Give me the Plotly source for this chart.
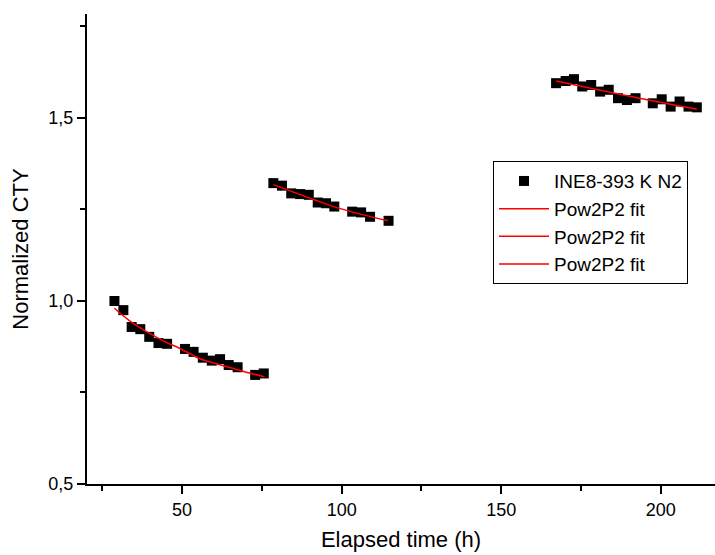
import plotly.graph_objects as go

# Measured normalized CTY for sample INE8-393 K N2, three runs
run1_time = [28.8, 31.6, 34.2, 36.9, 39.7, 42.6, 45.3, 50.9, 53.6, 56.5, 59.3, 61.9, 64.6, 67.4, 72.9, 75.6]
run1_cty = [1.000, 0.975, 0.929, 0.923, 0.902, 0.885, 0.883, 0.869, 0.861, 0.845, 0.837, 0.841, 0.825, 0.819, 0.798, 0.802]

run2_time = [78.6, 81.3, 84.2, 87.0, 89.7, 92.5, 95.1, 97.7, 103.3, 106.1, 108.9, 114.7]
run2_cty = [1.322, 1.315, 1.294, 1.292, 1.290, 1.269, 1.267, 1.258, 1.244, 1.242, 1.230, 1.219]

run3_time = [167.2, 170.2, 172.8, 175.4, 178.2, 181.0, 183.7, 186.6, 189.4, 192.1, 197.5, 200.3, 203.1, 205.9, 208.7, 211.3]
run3_cty = [1.595, 1.601, 1.606, 1.586, 1.590, 1.572, 1.577, 1.554, 1.549, 1.554, 1.540, 1.551, 1.531, 1.545, 1.531, 1.529]

# Pow2P2 fit curves for each run
fit1_time = [28.8, 34.0, 39.7, 44.5, 49.2, 55.4, 60.5, 65.8, 70.8, 75.8]
fit1_cty = [0.980, 0.943, 0.912, 0.889, 0.871, 0.843, 0.829, 0.816, 0.804, 0.793]

fit2_time = [78.6, 91.0, 99.3, 114.5]
fit2_cty = [1.318, 1.278, 1.253, 1.219]

fit3_time = [167.2, 193.3, 211.3]
fit3_cty = [1.601, 1.554, 1.524]

series_name = "INE8-393 K N2"
fit_name = "Pow2P2 fit"

fig = go.Figure()

fig.add_trace(go.Scatter(
    x=run1_time + run2_time + run3_time,
    y=run1_cty + run2_cty + run3_cty,
    mode="markers",
    name=series_name,
    marker=dict(symbol="square", size=10, color="black"),
))

for fx, fy in [(fit1_time, fit1_cty), (fit2_time, fit2_cty), (fit3_time, fit3_cty)]:
    fig.add_trace(go.Scatter(
        x=fx, y=fy,
        mode="lines",
        name=fit_name,
        line=dict(color="red", width=1.5, shape="spline"),
    ))

font_family = "Liberation Sans, Arial, sans-serif"

fig.update_layout(
    width=715, height=555,
    margin=dict(l=87, r=0, t=14, b=71),
    paper_bgcolor="white",
    plot_bgcolor="white",
    separators=",.",
    font=dict(family=font_family, size=18, color="black"),
    showlegend=True,
    legend=dict(
        x=0.6465, y=0.687, xanchor="left", yanchor="top",
        bgcolor="white", bordercolor="black", borderwidth=1,
        font=dict(size=19, color="black"),
        itemwidth=50,
        tracegroupgap=0,
    ),
    xaxis=dict(
        range=[20.2, 217],
        title=dict(text="Elapsed time (h)", font=dict(size=22), standoff=13),
        tickmode="linear", tick0=0, dtick=50,
        ticks="outside", ticklen=8, tickwidth=1.5, tickcolor="black",
        minor=dict(ticks="outside", ticklen=5, tickwidth=1.5, tickcolor="black", dtick=25, tick0=0),
        showline=True, linecolor="black", linewidth=2,
        showgrid=False, zeroline=False,
        tickfont=dict(size=18),
    ),
    yaxis=dict(
        range=[0.5, 1.784],
        title=dict(text="Normalized CTY", font=dict(size=22), standoff=14),
        tickmode="linear", tick0=0.5, dtick=0.5, tickformat=".1f",
        ticks="outside", ticklen=8, tickwidth=1.5, tickcolor="black",
        minor=dict(ticks="outside", ticklen=5, tickwidth=1.5, tickcolor="black", dtick=0.25, tick0=0.5),
        showline=True, linecolor="black", linewidth=2,
        showgrid=False, zeroline=False,
        tickfont=dict(size=18),
    ),
)

fig.write_html("out.html")
